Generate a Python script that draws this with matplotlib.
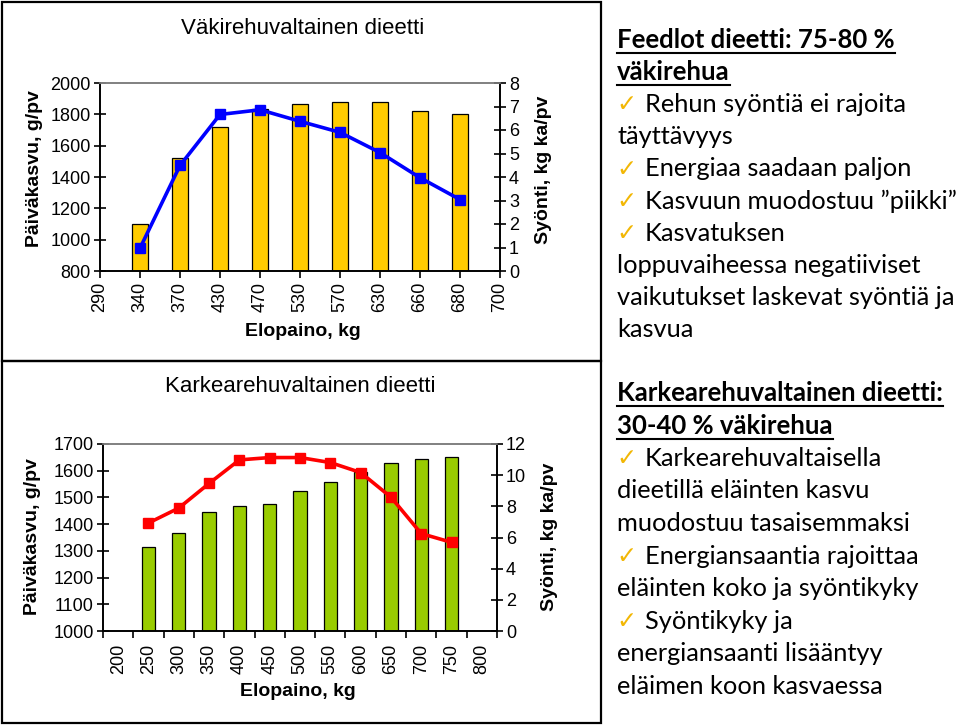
import matplotlib
matplotlib.use("Agg")
import matplotlib.pyplot as plt
from matplotlib.lines import Line2D
from matplotlib.patches import Rectangle
import numpy as np

# ---------------- data ----------------
top_categories = ["290", "340", "370", "430", "470", "530", "570", "630", "660", "680", "700"]
top_bar_cats = ["340", "370", "430", "470", "530", "570", "630", "660", "680"]
top_gain = [1100, 1522, 1717, 1833, 1867, 1876, 1876, 1822, 1805]
top_intake = [0.97, 4.49, 6.66, 6.86, 6.37, 5.90, 5.04, 3.97, 3.04]

bot_categories = ["200", "250", "300", "350", "400", "450", "500", "550", "600", "650", "700", "750", "800"]
bot_bar_cats = ["250", "300", "350", "400", "450", "500", "550", "600", "650", "700", "750"]
bot_gain = [1315, 1367, 1444, 1469, 1474, 1525, 1556, 1597, 1628, 1643, 1653]
bot_intake = [6.93, 7.89, 9.47, 10.98, 11.13, 11.13, 10.81, 10.17, 8.59, 6.25, 5.69]

top_title = "Väkirehuvaltainen dieetti"
bot_title = "Karkearehuvaltainen dieetti"
xlabel = "Elopaino, kg"
ylabel_left = "Päiväkasvu, g/pv"
ylabel_right = "Syönti, kg ka/pv"

text_top = [
    ("h", "Feedlot dieetti: 75-80 %"),
    ("h", "väkirehua"),
    ("c", "Rehun syöntiä ei rajoita"),
    ("t", "täyttävyys"),
    ("c", "Energiaa saadaan paljon"),
    ("c", "Kasvuun muodostuu \u201dpiikki\u201d"),
    ("c", "Kasvatuksen"),
    ("t", "loppuvaiheessa negatiiviset"),
    ("t", "vaikutukset laskevat syöntiä ja"),
    ("t", "kasvua"),
]
text_bot = [
    ("h", "Karkearehuvaltainen dieetti:"),
    ("h", "30-40 % väkirehua"),
    ("c", "Karkearehuvaltaisella"),
    ("t", "dieetillä eläinten kasvu"),
    ("t", "muodostuu tasaisemmaksi"),
    ("c", "Energiansaantia rajoittaa"),
    ("t", "eläinten koko ja syöntikyky"),
    ("c", "Syöntikyky ja"),
    ("t", "energiansaanti lisääntyy"),
    ("t", "eläimen koon kasvaessa"),
]

W, H = 960, 725
fig = plt.figure(figsize=(9.6, 7.25), dpi=100)
fig.patch.set_facecolor("white")

def fx(px):
    return px / W

def fy(py):
    return 1 - py / H

chart_font = "Liberation Sans"
tick_size = 13
label_size = 14
title_size = 16

# panel borders
for (x0, y0, x1, y1) in [(2, 2, 601, 361), (2, 361, 601, 723)]:
    fig.add_artist(Rectangle((fx(x0), fy(y1)), fx(x1) - fx(x0), fy(y0) - fy(y1),
                             transform=fig.transFigure, fill=False,
                             edgecolor="black", linewidth=1.6))


def style_axes(ax, ax2):
    for a in (ax, ax2):
        a.spines["top"].set_color("#808080")
        a.spines["top"].set_linewidth(1.2)
        for s in ("left", "right", "bottom"):
            a.spines[s].set_color("black")
            a.spines[s].set_linewidth(1.2)
    ax.tick_params(axis="y", direction="inout", length=9, width=1.2, labelsize=tick_size, pad=2)
    ax2.tick_params(axis="y", direction="inout", length=9, width=1.2, labelsize=tick_size, pad=2)
    for lab in ax.get_yticklabels() + ax2.get_yticklabels():
        lab.set_fontfamily(chart_font)


# ---------------- top chart ----------------
ax1 = fig.add_axes([fx(100), fy(271), fx(500) - fx(100), fy(83) - fy(271)])
ax1b = ax1.twinx()
pos_top = [top_categories.index(c) for c in top_bar_cats]
ax1.bar(pos_top, top_gain, width=0.42, color="#FFCC00", edgecolor="black", linewidth=0.9, zorder=2)
ax1.set_ylim(800, 2000)
ax1.set_yticks(range(800, 2001, 200))
ax1.set_xlim(0, len(top_categories) - 1)
ax1.set_xticks(range(len(top_categories)))
ax1.set_xticklabels(top_categories, rotation=90, fontsize=tick_size, fontfamily=chart_font)
ax1.tick_params(axis="x", direction="out", length=5, width=1.2, pad=3)
ax1b.plot(pos_top, top_intake, color="#0000FF", linewidth=2.6, marker="s", markersize=7,
          markerfacecolor="#0000FF", markeredgecolor="#0000FF", zorder=3)
ax1b.set_ylim(0, 8)
ax1b.set_yticks(range(0, 9))
style_axes(ax1, ax1b)

# ---------------- bottom chart ----------------
ax2 = fig.add_axes([fx(103), fy(631), fx(497) - fx(103), fy(444) - fy(631)])
ax2b = ax2.twinx()
pos_bot = [bot_categories.index(c) for c in bot_bar_cats]
ax2.bar(pos_bot, bot_gain, width=0.44, color="#99CC00", edgecolor="black", linewidth=0.9, zorder=2)
ax2.set_ylim(1000, 1700)
ax2.set_yticks(range(1000, 1701, 100))
ax2.set_xlim(-0.5, len(bot_categories) - 0.5)
ax2.set_xticks(np.arange(-0.5, len(bot_categories), 1.0))
ax2.set_xticklabels([])
ax2.tick_params(axis="x", which="major", direction="out", length=5, width=1.2)
ax2.set_xticks(range(len(bot_categories)), minor=True)
ax2.set_xticklabels(bot_categories, minor=True, rotation=90, fontsize=tick_size, fontfamily=chart_font)
ax2.tick_params(axis="x", which="minor", length=0, pad=9)
ax2b.plot(pos_bot, bot_intake, color="#FF0000", linewidth=2.6, marker="s", markersize=7,
          markerfacecolor="#FF0000", markeredgecolor="#FF0000", zorder=3)
ax2b.set_ylim(0, 12)
ax2b.set_yticks(range(0, 13, 2))
style_axes(ax2, ax2b)

# titles and axis labels (placed in figure pixel coordinates)
fig.text(fx(303), fy(28), top_title, ha="center", va="center", fontsize=title_size, fontfamily=chart_font)
fig.text(fx(300), fy(386), bot_title, ha="center", va="center", fontsize=title_size, fontfamily=chart_font)
fig.text(fx(303), fy(332), xlabel, ha="center", va="center", fontsize=label_size, fontweight="bold", fontfamily=chart_font)
fig.text(fx(298), fy(692), xlabel, ha="center", va="center", fontsize=label_size, fontweight="bold", fontfamily=chart_font)
fig.text(fx(35), fy(169), ylabel_left, ha="center", va="center", rotation=90, fontsize=label_size, fontweight="bold", fontfamily=chart_font)
fig.text(fx(33), fy(537), ylabel_left, ha="center", va="center", rotation=90, fontsize=label_size, fontweight="bold", fontfamily=chart_font)
fig.text(fx(543), fy(170), ylabel_right, ha="center", va="center", rotation=90, fontsize=label_size, fontweight="bold", fontfamily=chart_font)
fig.text(fx(550), fy(537), ylabel_right, ha="center", va="center", rotation=90, fontsize=label_size, fontweight="bold", fontfamily=chart_font)

# ---------------- right-hand text ----------------
text_font = ["Lato", "DejaVu Sans"]
body_size = 18.3
head_size = 18.5
check_color = "#F2B705"

def draw_block(lines, y_first, spacing):
    heads = []
    for i, (kind, s) in enumerate(lines):
        y = y_first + i * spacing
        if kind == "h":
            t = fig.text(fx(617), fy(y), s, ha="left", va="center", fontsize=head_size,
                         fontweight="bold", fontfamily=text_font)
            heads.append((t, y))
        elif kind == "c":
            fig.text(fx(616), fy(y), "\u2713", ha="left", va="center", fontsize=body_size - 1,
                     color=check_color, fontfamily=["DejaVu Sans"])
            fig.text(fx(645), fy(y), s, ha="left", va="center", fontsize=body_size,
                     fontfamily=text_font)
        else:
            fig.text(fx(617), fy(y), s, ha="left", va="center", fontsize=body_size,
                     fontfamily=text_font)
    return heads

heads = draw_block(text_top, 40, 32.2) + draw_block(text_bot, 393, 32.6)

fig.canvas.draw()
renderer = fig.canvas.get_renderer()
for t, y in heads:
    bb = t.get_window_extent(renderer=renderer)
    x0 = bb.x0 / W
    x1 = bb.x1 / W
    yy = fy(y + 13)
    fig.add_artist(Line2D([x0, x1], [yy, yy], transform=fig.transFigure, color="black", linewidth=1.5))

fig.savefig("out.png", dpi=100, facecolor="white")
